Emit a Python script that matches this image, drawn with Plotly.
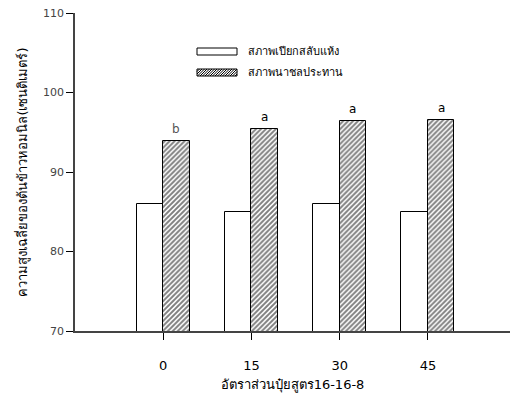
import plotly.graph_objects as go

categories = ["0", "15", "30", "45"]
awd_values = [86.0, 85.0, 86.0, 85.0]          # สภาพเปียกสลับแห้ง
flood_values = [93.9, 95.4, 96.4, 96.5]        # สภาพนาชลประทาน
letters = ["b", "a", "a", "a"]
series_names = ["สภาพเปียกสลับแห้ง", "สภาพนาชลประทาน"]

W, H = 513, 403
L, R, T, B = 75, 3, 13, 72
PW, PH = W - L - R, H - T - B

def px(x):
    return (x - L) / PW

def py(y):
    return (H - B - y) / PH

pos = list(range(len(categories)))
bw = 0.3
FONT = "Tahoma, DejaVu Sans, sans-serif"

fig = go.Figure()
fig.add_trace(go.Bar(
    x=[p - bw / 2 for p in pos], y=awd_values, width=bw, name=series_names[0],
    marker=dict(color="white", line=dict(color="black", width=1)),
    showlegend=False,
))
fig.add_trace(go.Bar(
    x=[p + bw / 2 for p in pos], y=flood_values, width=bw, name=series_names[1],
    marker=dict(color="white", line=dict(color="black", width=1),
                pattern=dict(shape="/", fgcolor="black", bgcolor="white",
                             size=3.5, solidity=0.55)),
    showlegend=False,
))

for p, v, t in zip(pos, flood_values, letters):
    fig.add_annotation(x=p + bw / 2, y=v, text=t, showarrow=False,
                       yanchor="bottom", yshift=3,
                       font=dict(size=12, color="#555" if t == "b" else "black", family=FONT))

# custom legend
shapes = []
shapes.append(dict(type="rect", xref="paper", yref="paper",
                   x0=px(197), x1=px(237), y0=py(55), y1=py(48),
                   line=dict(color="black", width=1), fillcolor="white"))
hx0, hx1, hy0, hy1 = 197, 237, 69, 76
path = ""
step = 2.5
d = hy1 - hy0
xs = hx0 - d
while xs < hx1:
    ax, ay = xs, hy1
    bx, by = xs + d, hy0
    if ax < hx0:
        ay = hy1 - (hx0 - ax)
        ax = hx0
    if bx > hx1:
        by = hy0 + (bx - hx1)
        bx = hx1
    path += f"M{px(ax)},{py(ay)} L{px(bx)},{py(by)} "
    xs += step
shapes.append(dict(type="path", xref="paper", yref="paper", path=path,
                   line=dict(color="black", width=1)))
shapes.append(dict(type="rect", xref="paper", yref="paper",
                   x0=px(hx0), x1=px(hx1), y0=py(hy1), y1=py(hy0),
                   line=dict(color="black", width=1), fillcolor="rgba(0,0,0,0)"))
for name, yc in zip(series_names, [52, 73]):
    fig.add_annotation(xref="paper", yref="paper", x=px(246), y=py(yc),
                       text=name, showarrow=False, xanchor="left", yanchor="middle",
                       font=dict(size=11, color="black", family=FONT))

fig.update_layout(
    width=W, height=H,
    margin=dict(l=L, r=R, t=T, b=B),
    paper_bgcolor="white", plot_bgcolor="white",
    barmode="overlay", bargap=0,
    shapes=shapes,
    font=dict(family=FONT),
    xaxis=dict(
        range=[-1, 3.93], tickvals=pos, ticktext=categories,
        showline=True, linecolor="#444", linewidth=1.5,
        ticks="outside", ticklen=7, tickcolor="black", tickwidth=1,
        showgrid=False, zeroline=False, ticklabelstandoff=15,
        tickfont=dict(size=13, color="black", family=FONT),
        title=dict(text="อัตราส่วนปุ๋ยสูตร16-16-8", standoff=8,
                   font=dict(size=13, color="black", family=FONT)),
    ),
    yaxis=dict(
        range=[70, 110], tickvals=[70, 80, 90, 100, 110],
        showline=True, linecolor="#444", linewidth=1.5,
        ticks="outside", ticklen=7, tickcolor="black", tickwidth=1,
        showgrid=False, zeroline=False,
        tickfont=dict(size=11, color="#444", family=FONT),
        title=dict(text="ความสูงเฉลี่ยของต้นข้าวหอมนิล(เซนติเมตร์)", standoff=12,
                   font=dict(size=13, color="black", family=FONT)),
    ),
)

fig.write_html("out.html")
